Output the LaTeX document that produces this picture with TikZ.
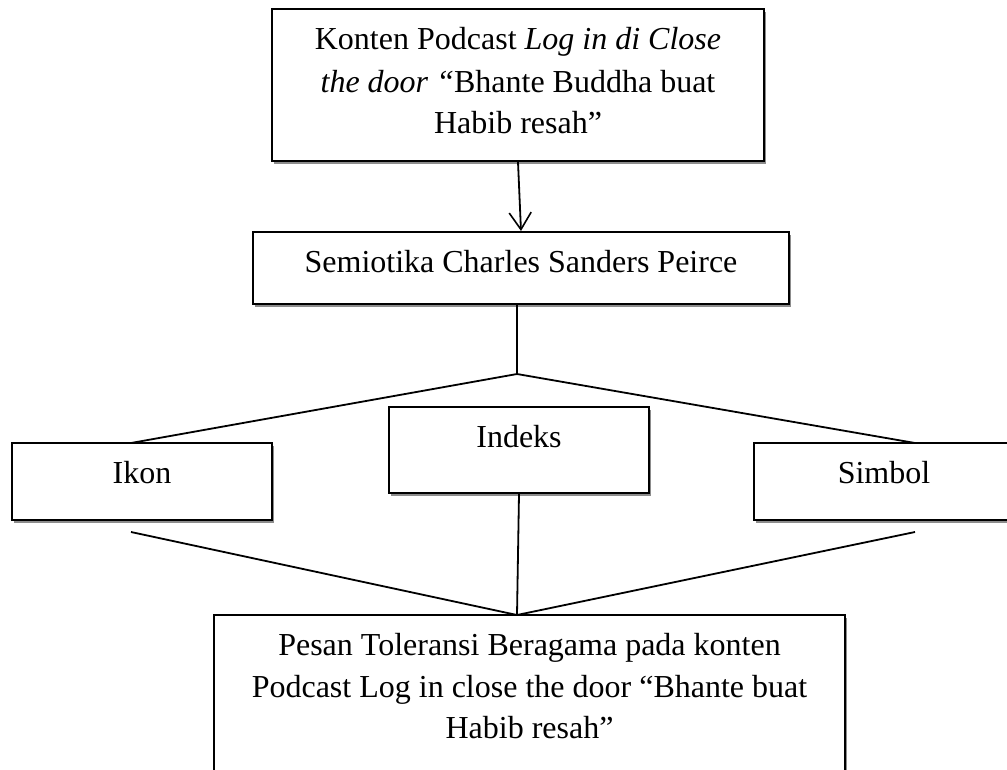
\documentclass[tikz,border=0pt]{standalone}
\usepackage{fontspec}
\setmainfont{Liberation Serif}
\usetikzlibrary{arrows.meta,shadows}
\begin{document}
\begin{tikzpicture}[x=1pt,y=-1pt,
  box/.style={draw=black, line width=2pt, fill=white, inner sep=0pt,
    drop shadow={shadow xshift=1.5pt, shadow yshift=-2.5pt, fill=black!45, opacity=1}},
  txt/.style={anchor=base, inner sep=0pt, font=\fontsize{32}{42}\selectfont},
  conn/.style={draw=black, line width=1.8pt},
  arr/.style={conn, -{Straight Barb[length=17pt,width=22pt,line width=1.6pt]}}]
\useasboundingbox (0,0) rectangle (1007,769);
\fill[white] (0,0) rectangle (1007,769);
% boxes
\node[box, minimum width=492pt, minimum height=152pt] (top) at (518,85) {};
\node[box, minimum width=536pt, minimum height=72pt] (semi) at (521,268) {};
\node[box, minimum width=260pt, minimum height=77pt] (ikon) at (142,481.5) {};
\node[box, minimum width=260pt, minimum height=86pt] (indeks) at (519,450) {};
\node[box, minimum width=260pt, minimum height=77pt] (simbol) at (884,481.5) {};
\node[box, minimum width=631pt, minimum height=175pt] (bottom) at (529.5,702.5) {};
% texts
\node[txt] (t1) at (518,49) {Konten Podcast \textit{Log in di Close}};
\node[txt] (t2) at (518,92) {\textit{the door} \textit{“}Bhante Buddha buat};
\node[txt] (t3) at (518,133) {Habib resah”};
\node[txt] (ts) at (521,272) {Semiotika Charles Sanders Peirce};
\node[txt] (ti) at (142,483) {Ikon};
\node[txt] (tx) at (519,447) {Indeks};
\node[txt] (tb) at (884,483) {Simbol};
\node[txt] (b1) at (529.5,655) {Pesan Toleransi Beragama pada konten};
\node[txt] (b2) at (529.5,697) {Podcast Log in close the door “Bhante buat};
\node[txt] (b3) at (529.5,738) {Habib resah”};
% coordinates
\coordinate (split) at (517,374);
\coordinate (ikonIn) at (131,443);
\coordinate (simbolIn) at (915,443);
\coordinate (ikonOut) at (131,532);
\coordinate (simbolOut) at (915,532);
\coordinate (join) at (517,615);
% connectors
\draw[arr] (top.south) -- (semi.north);
\draw[conn] (semi.south -| split) -- (split);
\draw[conn] (ikonIn) -- (split) -- (simbolIn);
\draw[conn] (ikonOut) -- (join) -- (simbolOut);
\draw[conn] (indeks.south) -- (join);
\end{tikzpicture}
\end{document}
